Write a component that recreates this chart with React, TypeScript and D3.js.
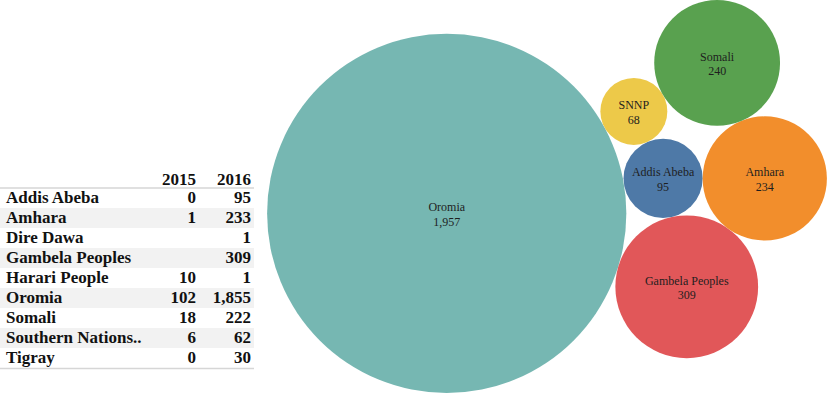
import React from "react";
import * as d3 from "d3";

// ---- Table data ----
const regions = ["Addis Abeba", "Amhara", "Dire Dawa", "Gambela Peoples", "Harari People", "Oromia", "Somali", "Southern Nations..", "Tigray"];
const values2015: (number | null)[] = [0, 1, null, null, 10, 102, 18, 6, 0];
const values2016: (number | null)[] = [95, 233, 1, 309, 1, 1855, 222, 62, 30];
const years = ["2015", "2016"];

// ---- Bubble data ----
const bubbleRegions = ["Oromia", "Gambela Peoples", "Addis Abeba", "Amhara", "Southern Nations..", "Somali"];
const bubbleLabels = ["Oromia", "Gambela Peoples", "Addis Abeba", "Amhara", "SNNP", "Somali"];
const bubbleValues = [1957, 309, 95, 234, 68, 240];
// which earlier bubbles each bubble touches (packing structure)
const bubbleTouch: number[][] = [[], [0], [0, 1], [2, 1], [0, 2], [4, 3]];

const W = 827, H = 393;
const fmt = d3.format(",");

function layout() {
  const r = bubbleValues.map((v) => Math.sqrt(v));
  const pos: { x: number; y: number; r: number }[] = [];
  pos[0] = { x: 0, y: 0, r: r[0] };
  const ang = (17 * Math.PI) / 180;
  pos[1] = { x: (r[0] + r[1]) * Math.cos(ang), y: (r[0] + r[1]) * Math.sin(ang), r: r[1] };
  for (let i = 2; i < r.length; i++) {
    const A = pos[bubbleTouch[i][0]], B = pos[bubbleTouch[i][1]];
    const dx = B.x - A.x, dy = B.y - A.y;
    const d = Math.hypot(dx, dy);
    const ux = dx / d, uy = dy / d;
    const dA = A.r + r[i], dB = B.r + r[i];
    const xx = (d * d + dA * dA - dB * dB) / (2 * d);
    const h = Math.sqrt(Math.max(0, dA * dA - xx * xx));
    const side = -1;
    pos[i] = { x: A.x + xx * ux + side * h * -uy, y: A.y + xx * uy + side * h * ux, r: r[i] };
  }
  const minX = d3.min(pos, (p) => p.x - p.r)!, maxX = d3.max(pos, (p) => p.x + p.r)!;
  const minY = d3.min(pos, (p) => p.y - p.r)!, maxY = d3.max(pos, (p) => p.y + p.r)!;
  const bx0 = 267, bx1 = 827, by0 = 0, by1 = 393;
  const k = Math.min((bx1 - bx0) / (maxX - minX), (by1 - by0) / (maxY - minY));
  const offX = bx0 + ((bx1 - bx0) - (maxX - minX) * k) / 2 - minX * k;
  const offY = by0 + ((by1 - by0) - (maxY - minY) * k) / 2 - minY * k;
  const rScale = d3.scaleSqrt().domain([0, d3.max(bubbleValues)!]).range([0, k * Math.sqrt(d3.max(bubbleValues)!)]);
  return pos.map((p, i) => ({ cx: offX + p.x * k, cy: offY + p.y * k, r: rScale(bubbleValues[i]) }));
}

export default function App() {
  const color = d3.scaleOrdinal<string, string>().domain([...bubbleRegions].sort()).range(d3.schemeTableau10);
  const circles = layout();

  const rowY = d3.scaleBand<number>().domain(d3.range(regions.length)).range([188, 368]);
  const colX = d3.scaleOrdinal<string, number>().domain(years).range([196, 251]);
  const tableFont = "'Liberation Serif', 'Times New Roman', serif";

  return (
    <svg width={W} height={H} style={{ position: "absolute", left: 0, top: 0, background: "#fff" }}>
      {/* table */}
      <g fontFamily={tableFont} fontWeight="bold" fontSize={17} fill="#111">
        {years.map((y) => (
          <text key={y} x={colX(y)} y={185} textAnchor="end">{y}</text>
        ))}
        {regions.map((name, i) => (
          <g key={name}>
            {i % 2 === 1 && <rect x={0} y={rowY(i)!} width={254} height={rowY.bandwidth()} fill="#f2f2f2" />}
            <text x={6} y={rowY(i)! + 15}>{name}</text>
            {values2015[i] !== null && <text x={colX("2015")} y={rowY(i)! + 15} textAnchor="end">{fmt(values2015[i] as number)}</text>}
            {values2016[i] !== null && <text x={colX("2016")} y={rowY(i)! + 15} textAnchor="end">{fmt(values2016[i] as number)}</text>}
          </g>
        ))}
        <line x1={0} x2={254} y1={188} y2={188} stroke="#d6d6d6" strokeWidth={1.5} />
        <line x1={0} x2={254} y1={368.5} y2={368.5} stroke="#d6d6d6" strokeWidth={1.5} />
      </g>
      {/* bubbles */}
      <g>
        {circles.map((c, i) => (
          <g key={bubbleRegions[i]}>
            <circle cx={c.cx} cy={c.cy} r={c.r} fill={color(bubbleRegions[i])} />
            <text x={c.cx} y={c.cy - 2} textAnchor="middle" fontFamily={tableFont} fontSize={12} fill="#1e1e1e">{bubbleLabels[i]}</text>
            <text x={c.cx} y={c.cy + 12.5} textAnchor="middle" fontFamily={tableFont} fontSize={12} fill="#1e1e1e">{fmt(bubbleValues[i])}</text>
          </g>
        ))}
      </g>
    </svg>
  );
}
